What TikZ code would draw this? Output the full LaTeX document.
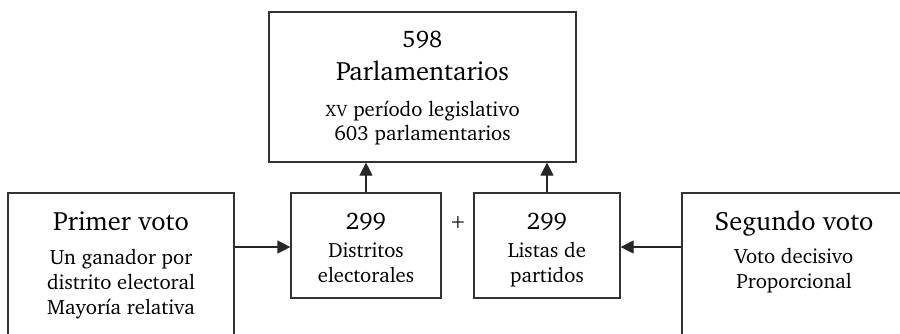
\documentclass[tikz,border=0pt]{standalone}
\usepackage[T1]{fontenc}
\usepackage{charter}
\usetikzlibrary{arrows.meta}
\begin{document}
\begin{tikzpicture}[x=1pt,y=-1pt,
  box/.style={draw=black!80, line width=1.2pt, rectangle, inner sep=0pt},
  big/.style={anchor=base, inner sep=0pt, font=\fontsize{26.5}{30}\selectfont},
  num/.style={anchor=base, inner sep=0pt, font=\fontsize{24}{28}\selectfont},
  small/.style={anchor=base, inner sep=0pt, font=\fontsize{20.7}{24}\selectfont},
  arr/.style={-{Triangle[length=13pt,width=13pt]}, line width=1.2pt, black!85}]
\useasboundingbox (0,0) rectangle (900,333);
\clip (0,0) rectangle (900,333);
% boxes
\node[box, minimum width=307pt, minimum height=150pt] (top) at (422.5,87) {};
\node[box, minimum width=226pt, minimum height=152pt] (left) at (121,269) {};
\node[box, minimum width=226pt, minimum height=152pt] (right) at (795,269) {};
\node[box, minimum width=150pt, minimum height=105pt] (mid1) at (366,245.5) {};
\node[box, minimum width=146pt, minimum height=105pt] (mid2) at (547,245.5) {};
% top text
\node[num] (t1) at (422.5,47) {598};
\node[big] (t2) at (422.5,80) {Parlamentarios};
\node[small] (t3) at (422.5,116) {\textsc{xv} período legislativo};
\node[small] (t4) at (422.5,140) {603 parlamentarios};
% left text
\node[big] (l1) at (121,230) {Primer voto};
\node[small] (l2) at (121,264) {Un ganador por};
\node[small] (l3) at (121,289) {distrito electoral};
\node[small] (l4) at (121,314) {Mayoría relativa};
% right text
\node[big] (r1) at (794,230) {Segundo voto};
\node[small] (r2) at (794,263) {Voto decisivo};
\node[small] (r3) at (794,288) {Proporcional};
% mid texts
\node[num] (m1a) at (366,229) {299};
\node[small] (m1b) at (366,257) {Distritos};
\node[small] (m1c) at (366,282) {electorales};
\node[num] (m2a) at (547,229) {299};
\node[small] (m2b) at (547,257) {Listas de};
\node[small] (m2c) at (547,282) {partidos};
\node[anchor=base, inner sep=0pt, font=\fontsize{20}{24}\selectfont] (plus) at (458,228) {+};
% arrows
\draw[arr] (mid1.north) -- (mid1.north |- top.south);
\draw[arr] (mid2.north) -- (mid2.north |- top.south);
\draw[arr] (left.east |- 0,247) -- (mid1.west |- 0,247);
\draw[arr] (right.west |- 0,247) -- (mid2.east |- 0,247);
\end{tikzpicture}
\end{document}
